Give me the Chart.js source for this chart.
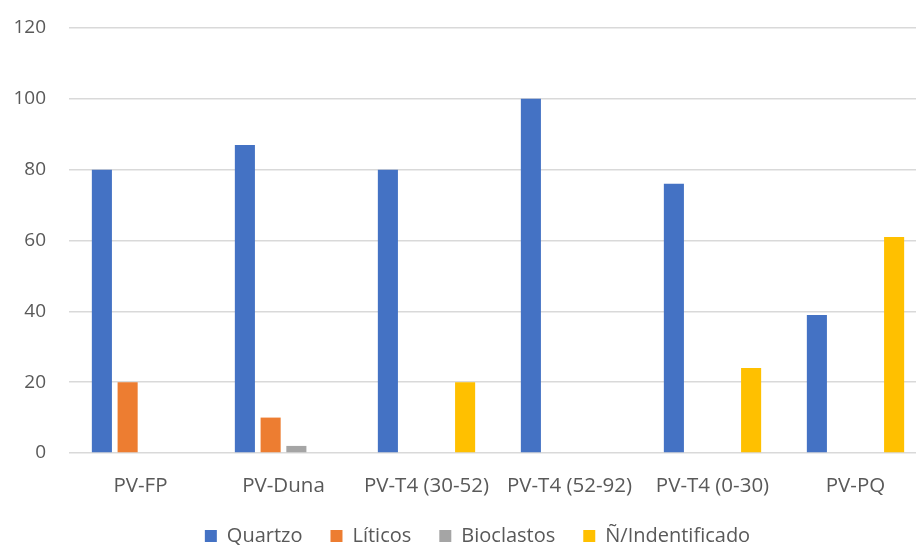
<!DOCTYPE html>
<html>
<head>
<meta charset="utf-8">
<script src="https://cdn.jsdelivr.net/npm/chart.js@4"></script>
<style>
  html, body { margin: 0; padding: 0; background: #ffffff; overflow: hidden; }
  #wrap { width: 927px; height: 547px; }
</style>
</head>
<body>
<div id="wrap"><canvas id="c" width="927" height="547"></canvas></div>
<script>
const categories = ["PV-FP", "PV-Duna", "PV-T4 (30-52)", "PV-T4 (52-92)", "PV-T4 (0-30)", "PV-PQ"];
const quartzo = [80, 87, 80, 100, 76, 39];
const liticos = [20, 10, 0, 0, 0, 0];
const bioclastos = [0, 2, 0, 0, 0, 0];
const naoIdentificado = [0, 0, 20, 0, 24, 61];
const seriesNames = ["Quartzo", "Líticos", "Bioclastos", "Ñ/Indentificado"];
const yTicks = [0, 20, 40, 60, 80, 100, 120];

const colors = ["#4472C4", "#ED7D31", "#A5A5A5", "#FFC000"];
const seriesData = [quartzo, liticos, bioclastos, naoIdentificado];
const FONT = "'Open Sans', sans-serif";

// shift the legend a little to the right, as in the reference
const legendShift = {
  id: "legendShift",
  afterLayout(chart) {
    if (chart.legend) { chart.legend.left += 14; chart.legend.right += 14; }
  }
};

new Chart(document.getElementById("c"), {
  type: "bar",
  plugins: [legendShift],
  data: {
    labels: categories,
    datasets: seriesData.map((d, i) => ({
      label: seriesNames[i],
      data: d,
      backgroundColor: colors[i],
      borderWidth: 0,
      categoryPercentage: 0.72,
      barPercentage: 0.78
    }))
  },
  options: {
    responsive: false,
    animation: false,
    layout: { padding: { left: 0, top: 28, right: 0, bottom: -9 } },
    plugins: {
      tooltip: { enabled: false },
      legend: {
        position: "bottom",
        labels: {
          font: { family: FONT, size: 20 },
          color: "#595959",
          boxWidth: 12,
          boxHeight: 12,
          padding: 28
        }
      }
    },
    scales: {
      x: {
        grid: { display: false, drawTicks: false },
        border: { display: false },
        afterFit: (axis) => { axis.height = 45; axis.paddingLeft = 0; axis.paddingRight = 0; },
        ticks: {
          font: { family: FONT, size: 20.5 },
          color: "#595959",
          padding: 21,
          maxRotation: 0
        }
      },
      y: {
        min: yTicks[0],
        max: yTicks[yTicks.length - 1],
        afterBuildTicks: (axis) => { axis.ticks = yTicks.map(v => ({ value: v })); },
        afterFit: (axis) => { axis.width = 69; axis.paddingTop = 0; axis.paddingBottom = 0; },
        grid: { color: "#D9D9D9", lineWidth: 1.5, drawTicks: false },
        border: { display: false },
        ticks: {
          font: { family: FONT, size: 19 },
          color: "#595959",
          padding: 23
        }
      }
    }
  }
});
</script>
</body>
</html>
